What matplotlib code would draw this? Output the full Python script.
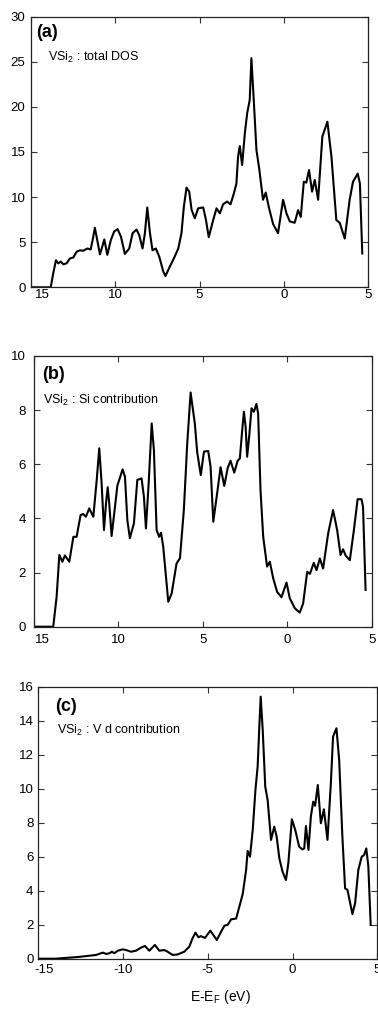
import matplotlib
matplotlib.use("Agg")
import matplotlib.pyplot as plt
from matplotlib.transforms import ScaledTranslation

plt.rcParams['font.family'] = ['Liberation Sans', 'DejaVu Sans']
plt.rcParams['mathtext.fontset'] = 'custom'
plt.rcParams['mathtext.rm'] = 'Liberation Sans'

# ---------------- data ----------------
a_energy = [-15.0, -13.83, -13.68, -13.52, -13.38, -13.24, -13.08, -12.89, -12.69, -12.49,
            -12.29, -12.09, -11.90, -11.66, -11.46, -11.34, -11.21, -11.07, -10.91, -10.77,
            -10.65, -10.47, -10.26, -10.06, -9.86, -9.66, -9.43, -9.17, -8.97, -8.74,
            -8.58, -8.38, -8.24, -8.10, -7.94, -7.79, -7.59, -7.39, -7.15, -7.02,
            -6.76, -6.52, -6.26, -6.07, -5.93, -5.77, -5.61, -5.47, -5.28, -5.08,
            -4.78, -4.62, -4.45, -4.19, -3.99, -3.79, -3.60, -3.36, -3.16, -2.96,
            -2.81, -2.71, -2.61, -2.47, -2.31, -2.17, -2.02, -1.92, -1.78, -1.62,
            -1.46, -1.23, -1.07, -0.87, -0.63, -0.34, -0.04, 0.16, 0.36, 0.65,
            0.85, 1.01, 1.19, 1.34, 1.50, 1.68, 1.84, 2.04, 2.29, 2.59,
            2.83, 3.12, 3.32, 3.62, 3.91, 4.11, 4.39, 4.52, 4.66]
a_dos = [0.0, 0.0, 1.55, 3.0, 2.65, 2.85, 2.55, 2.65, 3.2, 3.3,
         3.95, 4.1, 4.05, 4.3, 4.2, 5.25, 6.6, 5.25, 3.65, 4.5,
         5.3, 3.6, 5.25, 6.2, 6.45, 5.6, 3.7, 4.3, 6.0, 6.4,
         5.8, 4.3, 6.0, 8.85, 6.0, 4.1, 4.3, 3.4, 1.75, 1.25,
         2.3, 3.2, 4.3, 6.0, 8.9, 11.05, 10.6, 8.6, 7.65, 8.75,
         8.85, 7.5, 5.55, 7.45, 8.75, 8.2, 9.2, 9.5, 9.2, 10.4,
         11.5, 14.5, 15.65, 13.55, 17.05, 19.3, 20.75, 25.4, 20.75, 15.2,
         13.2, 9.7, 10.5, 8.75, 7.0, 6.0, 9.7, 8.2, 7.3, 7.15,
         8.55, 7.8, 11.7, 11.6, 13.0, 10.6, 11.9, 9.7, 16.7, 18.35,
         14.5, 7.45, 7.15, 5.4, 9.7, 11.7, 12.6, 11.5, 3.75]

b_energy = [-15.0, -13.84, -13.64, -13.48, -13.30, -13.15, -12.89, -12.65, -12.46, -12.22,
            -12.06, -11.91, -11.71, -11.47, -11.27, -11.12, -10.98, -10.84, -10.72, -10.62,
            -10.53, -10.39, -10.19, -10.05, -9.74, -9.60, -9.46, -9.31, -9.07, -8.87,
            -8.62, -8.48, -8.36, -8.20, -8.02, -7.89, -7.73, -7.58, -7.47, -7.34,
            -7.04, -6.84, -6.55, -6.35, -6.12, -5.92, -5.72, -5.47, -5.33, -5.12,
            -4.93, -4.68, -4.54, -4.38, -4.18, -3.95, -3.73, -3.53, -3.36, -3.14,
            -2.94, -2.81, -2.67, -2.57, -2.47, -2.38, -2.26, -2.12, -1.98, -1.83,
            -1.73, -1.59, -1.43, -1.20, -1.04, -0.84, -0.61, -0.35, -0.05, 0.14,
            0.44, 0.73, 0.93, 1.17, 1.33, 1.56, 1.72, 1.92, 2.11, 2.41,
            2.70, 2.94, 3.14, 3.29, 3.45, 3.69, 3.93, 4.15, 4.38, 4.47, 4.62]
b_dos = [0.0, 0.0, 1.1, 2.65, 2.40, 2.63, 2.40, 3.32, 3.32, 4.13,
         4.16, 4.06, 4.37, 4.06, 5.42, 6.59, 5.30, 3.57, 4.56, 5.15,
         4.56, 3.35, 4.43, 5.21, 5.81, 5.54, 3.94, 3.27, 3.82, 5.42,
         5.48, 4.80, 3.63, 5.30, 7.51, 6.53, 3.57, 3.32, 3.47, 2.96,
         0.92, 1.23, 2.34, 2.53, 4.31, 6.77, 8.65, 7.50, 6.44, 5.60,
         6.47, 6.49, 5.91, 3.88, 4.80, 5.89, 5.20, 5.86, 6.13, 5.69,
         6.13, 6.22, 7.27, 7.94, 7.39, 6.28, 7.02, 8.07, 7.94, 8.23,
         7.88, 5.05, 3.32, 2.22, 2.40, 1.79, 1.29, 1.09, 1.63, 1.05,
         0.68, 0.52, 0.86, 2.03, 1.95, 2.36, 2.09, 2.52, 2.15, 3.45,
         4.31, 3.57, 2.65, 2.86, 2.62, 2.46, 3.57, 4.71, 4.71, 4.43, 1.36]

c_energy = [-15.0, -14.0, -12.66, -11.59, -11.19, -11.00, -10.80, -10.66, -10.51, -10.31,
            -10.02, -9.82, -9.53, -9.24, -8.94, -8.71, -8.45, -8.12, -7.86, -7.57,
            -7.37, -7.08, -6.78, -6.39, -6.09, -5.90, -5.73, -5.55, -5.41, -5.17,
            -4.85, -4.47, -4.21, -4.02, -3.82, -3.62, -3.33, -3.14, -2.94, -2.74,
            -2.65, -2.51, -2.35, -2.19, -2.06, -1.96, -1.88, -1.76, -1.61, -1.47,
            -1.27, -1.08, -0.94, -0.78, -0.59, -0.39, -0.25, -0.04, 0.16, 0.39,
            0.59, 0.69, 0.79, 0.94, 1.08, 1.22, 1.33, 1.49, 1.67, 1.85,
            2.06, 2.26, 2.39, 2.59, 2.75, 2.94, 3.10, 3.24, 3.53, 3.69,
            3.88, 4.08, 4.22, 4.35, 4.47, 4.61]
c_dos = [0.0, 0.0, 0.10, 0.22, 0.36, 0.28, 0.32, 0.41, 0.32, 0.47,
         0.55, 0.51, 0.41, 0.47, 0.65, 0.75, 0.47, 0.81, 0.47, 0.51,
         0.41, 0.22, 0.25, 0.41, 0.71, 1.20, 1.53, 1.26, 1.33, 1.22,
         1.65, 1.10, 1.60, 1.94, 2.00, 2.32, 2.36, 3.06, 3.81, 5.22,
         6.34, 6.00, 7.57, 9.93, 11.30, 13.65, 15.42, 13.46, 10.12, 9.34,
         6.99, 7.77, 7.20, 5.91, 5.12, 4.63, 5.61, 8.20, 7.57, 6.59,
         6.43, 6.49, 7.81, 6.40, 8.36, 9.24, 9.00, 10.22, 7.97, 8.79,
         6.99, 10.32, 13.07, 13.56, 11.70, 7.18, 4.14, 4.05, 2.63, 3.26,
         5.22, 6.00, 6.10, 6.49, 5.45, 1.98]

x_ticks = [-15, -10, -5, 0, 5]
x_labels_ab = ['15', '10', '5', '0', '5']
x_labels_c = ['-15', '-10', '-5', '0', '5']

panel_tags = ['(a)', '(b)', '(c)']
panel_titles = [r'VSi$_\mathregular{2}$ : total DOS',
                r'VSi$_\mathregular{2}$ : Si contribution',
                r'VSi$_\mathregular{2}$ : V d contribution']
y_tops = [30, 10, 16]
y_steps = [5, 2, 2]

# ---------------- layout ----------------
W, H = 378.0, 1009.0
fig = plt.figure(figsize=(W / 100, H / 100), dpi=100)

boxes = [(31.0, 368.0, 16.6, 287.3),
         (33.6, 372.0, 356.0, 626.7),
         (38.3, 377.3, 686.8, 958.7)]
xpads = [1.5, 5.5, 4.0]
ypads = [4.0, 5.5, 3.5]
first_shift = [11.0, 9.0, 6.0]
tag_pos = [(0.015, 0.94), (0.024, 0.933), (0.049, 0.929)]
title_pos = [(0.050, 0.85), (0.029, 0.837), (0.054, 0.841)]

series = [(a_energy, a_dos), (b_energy, b_dos), (c_energy, c_dos)]

for i in range(3):
    l, r, t, b = boxes[i]
    ax = fig.add_axes([l / W, 1 - b / H, (r - l) / W, (b - t) / H])
    e, d = series[i]
    ax.plot(e, d, color='black', lw=1.5, solid_joinstyle='round')
    ax.set_xlim(-15, 5)
    ax.set_ylim(0, y_tops[i])
    ax.set_xticks(x_ticks)
    ax.set_xticklabels(x_labels_c if i == 2 else x_labels_ab)
    ax.set_yticks(list(range(0, y_tops[i] + 1, y_steps[i])))
    ax.tick_params(direction='in', top=True, right=True, length=4, width=0.8,
                   labelsize=9.5, color='#333333')
    ax.tick_params(axis='x', pad=xpads[i])
    ax.tick_params(axis='y', pad=ypads[i])
    for s in ax.spines.values():
        s.set_linewidth(0.9)
        s.set_color('#222222')
    lab0 = ax.get_xticklabels()[0]
    lab0.set_transform(lab0.get_transform() +
                       ScaledTranslation(first_shift[i] / 100, 0, fig.dpi_scale_trans))
    ax.text(tag_pos[i][0], tag_pos[i][1], panel_tags[i], transform=ax.transAxes,
            fontsize=13, fontweight='bold', ha='left', va='center')
    ax.text(title_pos[i][0], title_pos[i][1], panel_titles[i], transform=ax.transAxes,
            fontsize=9, ha='left', va='center')

fig.text(220 / W, 1 - 997 / H, r'E-E$_\mathregular{F}$ (eV)', ha='center', va='center',
         fontsize=10)

fig.savefig('out.png', dpi=100)
